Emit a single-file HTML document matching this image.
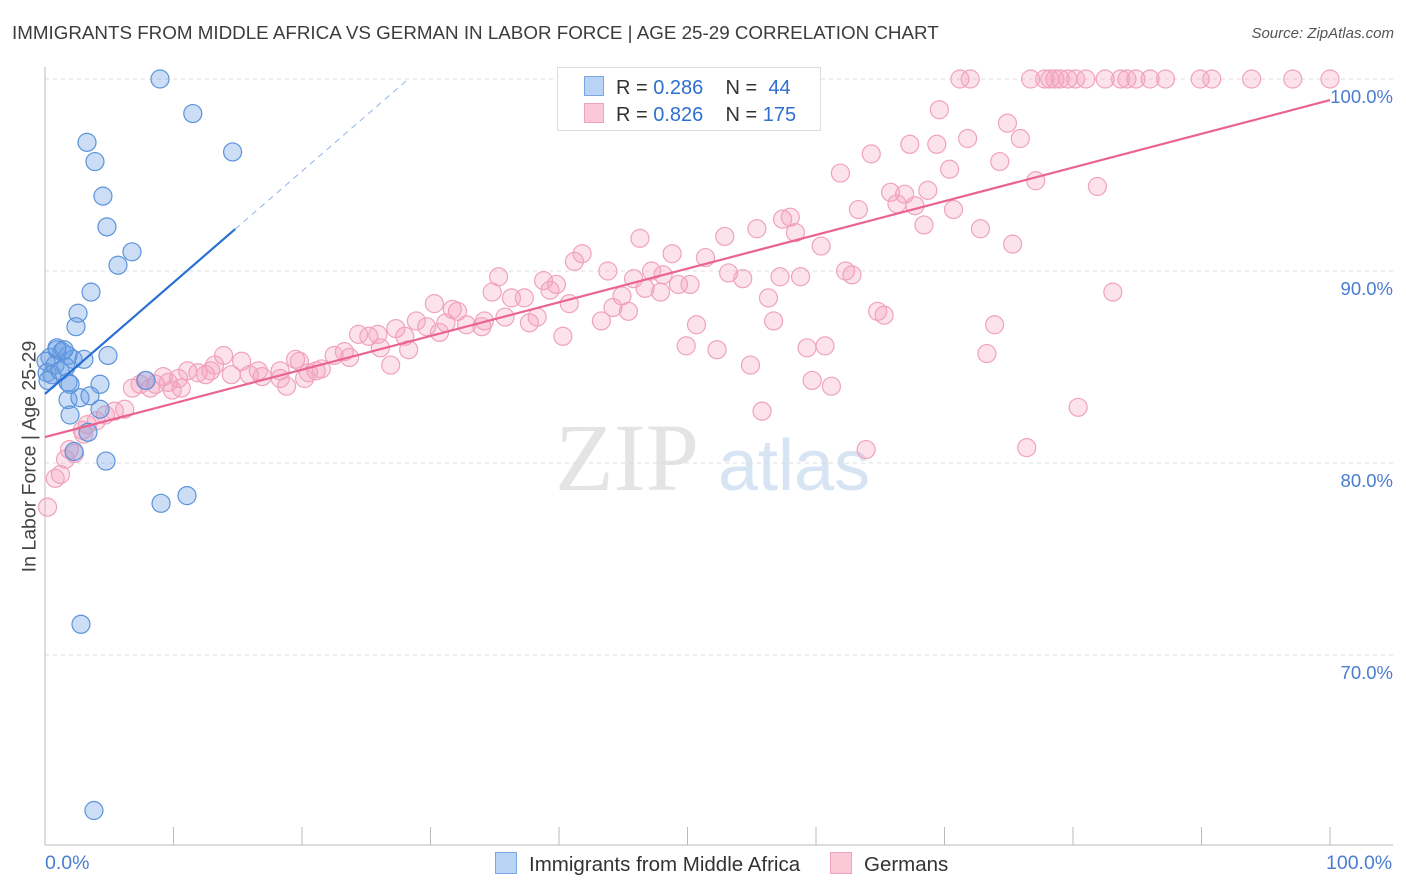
<!DOCTYPE html>
<html><head><meta charset="utf-8"><style>
body{margin:0;background:#fff;font-family:"Liberation Sans",sans-serif;}
#wrap{position:relative;width:1406px;height:892px;overflow:hidden}
.t{position:absolute;white-space:nowrap}
</style></head><body><div id="wrap">
<div class="t" style="left:12px;top:22px;font-size:18.8px;color:#3c3c3c">IMMIGRANTS FROM MIDDLE AFRICA VS GERMAN IN LABOR FORCE | AGE 25-29 CORRELATION CHART</div>
<div class="t" style="right:12px;top:25px;font-size:15px;color:#555;font-style:italic">Source: ZipAtlas.com</div>
<svg id="svg" width="1406" height="892" style="position:absolute;left:0;top:0"></svg>
</div>
<script>
const blueX=[8.95,11.5,14.6,3.27,3.89,4.51,4.82,6.77,5.68,3.58,2.57,2.41,0.93,1.32,1.79,0.39,0.08,0.78,2.18,3.03,4.9,0.16,0.54,0.23,1.79,1.95,4.28,1.79,2.72,3.5,1.95,4.28,3.35,2.26,4.75,9.03,11.05,2.8,3.81,7.86,1.17,1.63,0.93,1.48];
const blueY=[100,98.2,96.2,96.7,95.7,93.9,92.3,91.0,90.3,88.9,87.8,87.1,85.9,85.8,85.6,85.5,85.3,85.1,85.4,85.4,85.6,84.7,84.6,84.3,84.2,84.1,84.1,83.3,83.4,83.5,82.5,82.8,81.6,80.6,80.1,77.9,78.3,71.6,61.9,84.3,84.8,85.0,86.0,85.9];
const pinkX=[71.2,72.0,76.7,77.8,78.2,78.6,79.0,79.6,80.2,81.0,82.5,83.7,84.2,84.9,86.0,87.2,89.9,90.8,93.9,97.1,100,69.6,74.9,75.9,71.8,69.4,67.3,64.3,74.3,70.4,61.9,77.1,81.9,65.8,68.7,66.9,66.3,67.7,63.3,70.7,57.4,58.0,68.4,72.8,55.4,58.4,52.9,46.3,60.4,75.3,41.8,48.8,41.2,51.4,43.8,47.2,53.2,57.2,58.8,62.3,62.8,54.3,45.8,48.1,35.3,38.8,39.8,39.3,46.7,49.3,50.2,47.9,34.8,36.3,37.3,83.1,56.3,44.9,40.8,30.3,44.2,45.4,64.8,65.3,32.1,31.7,35.8,38.3,34.2,43.3,56.7,31.2,28.9,32.8,37.7,34.0,50.7,73.9,29.7,27.3,30.7,28.0,24.4,25.2,25.9,40.3,26.1,28.3,49.9,60.7,52.3,59.3,73.3,22.5,23.3,23.7,19.5,19.8,13.9,15.3,26.9,54.9,13.2,11.1,11.9,12.5,12.9,16.6,18.3,21.1,21.5,20.5,14.5,15.9,16.9,18.3,20.2,9.2,10.4,7.8,8.6,9.6,7.4,59.7,61.2,10.6,18.8,6.8,8.2,9.9,55.8,80.4,6.2,5.4,4.7,4.0,3.3,2.9,3.0,63.9,76.4,1.9,2.3,1.6,1.2,0.8,0.2];
const pinkY=[100,100,100,100,100,100,100,100,100,100,100,100,100,100,100,100,100,100,100,100,100,98.4,97.7,96.9,96.9,96.6,96.6,96.1,95.7,95.3,95.1,94.7,94.4,94.1,94.2,94.0,93.5,93.4,93.2,93.2,92.7,92.8,92.4,92.2,92.2,92.0,91.8,91.7,91.3,91.4,90.9,90.9,90.5,90.7,90.0,90.0,89.9,89.7,89.7,90.0,89.8,89.6,89.6,89.8,89.7,89.5,89.3,89.0,89.1,89.3,89.3,88.9,88.9,88.6,88.6,88.9,88.6,88.7,88.3,88.3,88.1,87.9,87.9,87.7,87.9,88.0,87.6,87.6,87.4,87.4,87.4,87.3,87.4,87.2,87.3,87.1,87.2,87.2,87.1,87.0,86.8,86.6,86.7,86.6,86.7,86.6,86.0,85.9,86.1,86.1,85.9,86.0,85.7,85.6,85.8,85.5,85.4,85.3,85.6,85.3,85.1,85.1,85.1,84.8,84.7,84.6,84.8,84.8,84.8,84.8,84.9,84.7,84.6,84.6,84.5,84.4,84.4,84.5,84.4,84.3,84.1,84.2,84.1,84.3,84.0,83.9,84.0,83.9,83.9,83.8,82.7,82.9,82.8,82.7,82.5,82.2,82.0,81.7,81.5,80.7,80.8,80.7,80.5,80.2,79.4,79.2,77.7];
const blueTrend=[83.6,0.58];   // intercept, slope
const pinkTrend=[81.35,0.1755];
const yTicks=[100,90,80,70];
const yTickLabels=["100.0%","90.0%","80.0%","70.0%"];
const xTicks=[0,10,20,30,40,50,60,70,80,90,100];

const svg=document.getElementById('svg');const NS='http://www.w3.org/2000/svg';
const X=v=>45+v*12.85, Y=v=>79+(100-v)*19.2;
function mk(t,a,p){const e=document.createElementNS(NS,t);for(const k in a)e.setAttribute(k,a[k]);(p||svg).appendChild(e);return e;}
let w=mk('text',{x:555,y:490,'font-size':96,'font-family':'Liberation Serif,serif',fill:'#e4e4e4'});w.textContent='ZIP';


let w2=mk('text',{x:718,y:490,'font-size':72,'font-family':'Liberation Sans,sans-serif',fill:'#d6e4f4'});w2.textContent='atlas';


yTicks.forEach((v,i)=>{
 const l=mk('line',{x1:45,x2:1393,y1:Y(v),y2:Y(v),stroke:'#dcdcdc','stroke-dasharray':'4,4'});
 
 
 const t=mk('text',{x:1393,y:Y(v)+24,'text-anchor':'end','font-size':18.5,fill:'#4a7dd0'});t.textContent=yTickLabels[i];
 
 
});
mk('line',{x1:45,x2:45,y1:67,y2:845,stroke:'#bbb'});
mk('line',{x1:45,x2:1393,y1:845,y2:845,stroke:'#bbb'});
xTicks.forEach(v=>{const l=mk('line',{x1:X(v),x2:X(v),y1:827,y2:845,stroke:'#bbb'});
 
 });
pinkX.forEach((v,i)=>{const c=mk('circle',{cx:X(v),cy:Y(pinkY[i]),r:9,fill:'rgba(244,160,188,0.3)',stroke:'#f0a3bb','stroke-width':1.2});
 
 });
blueX.forEach((v,i)=>{const c=mk('circle',{cx:X(v),cy:Y(blueY[i]),r:9,fill:'rgba(110,160,230,0.35)',stroke:'#5b93db','stroke-width':1.2});
 
 });
const bEnd=14.8, bDash=(100-blueTrend[0])/blueTrend[1];
let bl=mk('line',{x1:X(0),y1:Y(blueTrend[0]),x2:X(bEnd),y2:Y(blueTrend[0]+blueTrend[1]*bEnd),stroke:'#2a6fd6','stroke-width':2.2});


let bd=mk('line',{x1:X(bEnd),y1:Y(blueTrend[0]+blueTrend[1]*bEnd),x2:X(bDash),y2:Y(100),stroke:'#8fb4e6','stroke-width':1,'stroke-dasharray':'6,5'});


let pl=mk('line',{x1:X(0),y1:Y(pinkTrend[0]),x2:X(100),y2:Y(pinkTrend[0]+pinkTrend[1]*100),stroke:'#e9648f','stroke-width':2.2});


</script>
<div class="t" style="left:-90px;top:445px;font-size:19.5px;color:#444;transform:rotate(-90deg);width:240px;text-align:center">In Labor Force | Age 25-29</div>
<div class="t" style="left:45px;top:852px;font-size:19.5px;color:#4a7dd0">0.0%</div>
<div class="t" style="left:1326px;top:852px;font-size:19.5px;color:#4a7dd0">100.0%</div>
<div style="position:absolute;left:557px;top:67px;width:262px;height:62px;border:1px solid #ddd;background:#fff;font-size:20px;color:#333">
 <div class="t" style="left:26px;top:8px"><span style="display:inline-block;width:18px;height:18px;background:#b9d3f5;border:1px solid #7aa6e3;vertical-align:-2px;margin-right:12px"></span>R = <span style="color:#2f6fd0">0.286</span>&nbsp;&nbsp;&nbsp; N = &nbsp;<span style="color:#2f6fd0">44</span></div>
 <div class="t" style="left:26px;top:35px"><span style="display:inline-block;width:18px;height:18px;background:#fac8d7;border:1px solid #f0a3bb;vertical-align:-2px;margin-right:12px"></span>R = <span style="color:#2f6fd0">0.826</span>&nbsp;&nbsp;&nbsp; N = <span style="color:#2f6fd0">175</span></div>
</div>
<div class="t" style="left:495px;top:852px;font-size:20.5px;color:#333"><span style="display:inline-block;width:20px;height:20px;background:#b9d3f5;border:1px solid #7aa6e3;vertical-align:-3px;margin-right:12px"></span>Immigrants from Middle Africa</div>
<div class="t" style="left:830px;top:852px;font-size:20.5px;color:#333"><span style="display:inline-block;width:20px;height:20px;background:#fac8d7;border:1px solid #f0a3bb;vertical-align:-3px;margin-right:12px"></span>Germans</div>
</body></html>
